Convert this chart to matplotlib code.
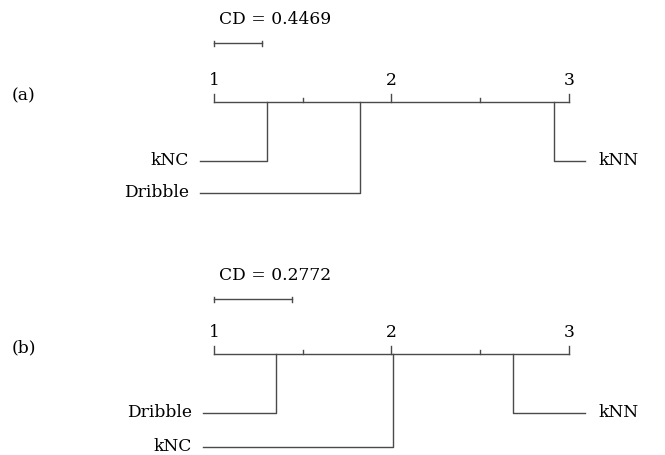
import matplotlib.pyplot as plt

# data: average ranks per panel
panel_names = ["(a)", "(b)"]
cd_labels = ["CD = 0.4469", "CD = 0.2772"]
cd_bars = [0.273, 0.442]          # bar lengths as drawn (rank units)
left_methods = [["kNC", "Dribble"], ["Dribble", "kNC"]]
left_ranks = [[1.297, 1.824], [1.35, 2.01]]
right_methods = [["kNN"], ["kNN"]]
right_ranks = [[2.917], [2.686]]
tick_labels = ["1", "2", "3"]

plt.rcParams['font.family'] = ['DejaVu Serif']
fig = plt.figure(figsize=(6.65, 4.55), dpi=100)
ax = fig.add_axes([0, 0, 1, 1])
# x in rank units, y in pixels from top
px = 2 / 355.0
ax.set_xlim(1 - 214 * px, 3 + 96 * px)
ax.set_ylim(455, 0)
ax.axis('off')

lc = '#4a4a4a'
lw = 1.0
fs = 12.3

# vertical layout per panel (pixels)
tops = [0, 252]
for p in range(2):
    y0 = tops[p]
    axis_y = y0 + 101.5
    # (a)/(b)
    ax.text(1 - 202 * px, axis_y - 6, panel_names[p], ha='left', va='center', fontsize=fs)
    # CD text and bar
    ax.text(1 + 5 * px, y0 + 19 + p * 4, cd_labels[p], ha='left', va='center', fontsize=fs)
    by = y0 + 43 + p * 4
    ax.plot([1, 1 + cd_bars[p]], [by, by], color=lc, lw=lw)
    for xb in (1, 1 + cd_bars[p]):
        ax.plot([xb, xb], [by - 2.5, by + 2.5], color=lc, lw=lw)
    # main axis
    ax.plot([1, 3], [axis_y, axis_y], color=lc, lw=lw)
    for i, lab in enumerate(tick_labels):
        r = i + 1
        ax.plot([r, r], [axis_y - 8, axis_y], color=lc, lw=lw)
        ax.text(r, axis_y - 21, lab, ha='center', va='center', fontsize=fs)
    for r in (1.5, 2.5):
        ax.plot([r, r], [axis_y - 4, axis_y], color=lc, lw=lw)
    # left methods
    spacing = [32, 34][p]
    x_start = 1 - [14, 11][p] * px
    for k, (name, r) in enumerate(zip(left_methods[p], left_ranks[p])):
        ly = axis_y + 59 + k * spacing
        ax.plot([x_start, r, r], [ly, ly, axis_y], color=lc, lw=lw)
        ax.text(x_start - 11 * px, ly, name, ha='right', va='center', fontsize=fs)
    # right methods
    x_end = 3 + 16 * px
    for k, (name, r) in enumerate(zip(right_methods[p], right_ranks[p])):
        ly = axis_y + 59 + k * spacing
        ax.plot([x_end, r, r], [ly, ly, axis_y], color=lc, lw=lw)
        ax.text(x_end + 13 * px, ly, name, ha='left', va='center', fontsize=fs)

fig.savefig("out.png", dpi=100)
